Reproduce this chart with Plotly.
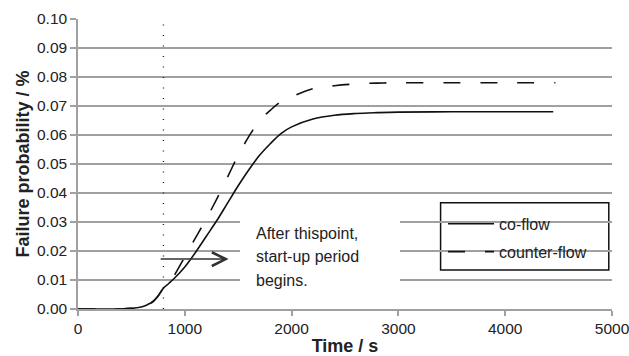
import plotly.graph_objects as go

# ---- data ----
time_co = [0, 200, 400, 500, 600, 650, 700, 750, 800, 850, 900, 1000, 1100, 1200, 1300,
           1400, 1500, 1600, 1700, 1800, 1900, 2000, 2200, 2400, 2600, 2800, 3000, 3500,
           4000, 4450]
co_flow = [0, 0, 0, 0.0002, 0.0008, 0.0015, 0.0025, 0.0045, 0.0072, 0.0088, 0.0105, 0.0145,
           0.0195, 0.0250, 0.0305, 0.0365, 0.0425, 0.0480, 0.0530, 0.0570, 0.0605, 0.0628,
           0.0655, 0.0668, 0.0674, 0.0677, 0.0679, 0.0680, 0.0680, 0.0680]

time_counter = [0, 200, 400, 500, 600, 650, 700, 750, 800, 850, 900, 1000, 1100, 1200, 1300,
                1400, 1500, 1600, 1700, 1800, 1900, 2000, 2200, 2400, 2600, 2800, 3000, 3500,
                4000, 4470]
counter_flow = [0, 0, 0, 0.0002, 0.0008, 0.0015, 0.0025, 0.0045, 0.0072, 0.0090, 0.0115,
                0.0180, 0.0245, 0.0310, 0.0380, 0.0455, 0.0530, 0.0595, 0.0650, 0.0685,
                0.0715, 0.0732, 0.0760, 0.0770, 0.0776, 0.0779, 0.0780, 0.0780, 0.0780, 0.0780]

startup_time = 800
arrow_x = [760, 1410]
arrow_y = 0.0172
note_lines = ["After thispoint,", "start-up period", "begins."]
note_x = 1650
note_y = [0.0262, 0.0180, 0.0100]
note_box_x = [1517, 3015]
note_box_y = [0.0045, 0.0360]

x_ticks = [0, 1000, 2000, 3000, 4000, 5000]
y_ticks = [0.00, 0.01, 0.02, 0.03, 0.04, 0.05, 0.06, 0.07, 0.08, 0.09, 0.10]

FONT = "Arial"
GRID = "#a0a0a0"

fig = go.Figure()

fig.add_trace(go.Scatter(x=[startup_time, startup_time], y=[0, 0.1], mode="lines",
                         line=dict(color="#222", width=1.4, dash="1px,9.5px"),
                         showlegend=False, hoverinfo="skip"))
fig.add_trace(go.Scatter(x=time_co, y=co_flow, mode="lines", name="co-flow",
                         legendgroup="a", line=dict(color="#111", width=1.6, shape="spline")))
fig.add_trace(go.Scatter(x=time_counter, y=counter_flow, mode="lines", name="counter-flow",
                         legendgroup="b",
                         line=dict(color="#111", width=1.6, dash="17px,20px", shape="spline")))

# white backing for the note text (hides gridlines like the original)
fig.add_shape(type="rect", xref="x", yref="y", x0=note_box_x[0], x1=note_box_x[1],
              y0=note_box_y[0], y1=note_box_y[1], fillcolor="white", line=dict(width=0),
              layer="between")
# legend frame
fig.add_shape(type="rect", xref="paper", yref="paper", x0=0.679, x1=0.994,
              y0=0.1345, y1=0.366, fillcolor="white", line=dict(color="#111", width=1.5),
              layer="between")

fig.add_annotation(x=arrow_x[1], y=arrow_y, ax=arrow_x[0], ay=arrow_y, axref="x", ayref="y",
                   xref="x", yref="y", text="", showarrow=True, arrowhead=5, arrowsize=1.8,
                   arrowwidth=1.5, arrowcolor="#333")
for t, yy in zip(note_lines, note_y):
    fig.add_annotation(x=note_x, y=yy, xref="x", yref="y", text=t, showarrow=False,
                       xanchor="left", yanchor="middle",
                       font=dict(family=FONT, size=16, color="#222"))

fig.update_layout(
    width=629, height=356,
    margin=dict(l=78, r=17, t=19, b=47),
    plot_bgcolor="white", paper_bgcolor="white",
    font=dict(family=FONT, size=15.5, color="#222"),
    showlegend=True,
    legend=dict(x=0.6836, y=0.352, xanchor="left", yanchor="top", bgcolor="rgba(0,0,0,0)",
                borderwidth=0, tracegroupgap=4,
                font=dict(family=FONT, size=16, color="#222"), itemwidth=46),
)
fig.update_xaxes(range=[0, 5000], tickvals=x_ticks, showgrid=False, showline=True,
                 linecolor=GRID, linewidth=1.5, ticks="outside", ticklen=5, tickcolor=GRID,
                 tickwidth=1.5, zeroline=False, automargin=False, ticklabeloverflow="allow",
                 title=dict(text="<b>Time / s</b>", font=dict(family=FONT, size=18, color="#222"),
                            standoff=4))
fig.update_yaxes(range=[0, 0.1], tickvals=y_ticks, tickformat=".2f", showgrid=True,
                 gridcolor=GRID, gridwidth=1.5, showline=True, linecolor=GRID, linewidth=1.5,
                 ticks="outside", ticklen=6, tickcolor=GRID, tickwidth=1.5, zeroline=False,
                 automargin=False,
                 title=dict(text="<b>Failure probability / %</b>",
                            font=dict(family=FONT, size=18, color="#222"), standoff=3))

fig.write_html("out.html")
